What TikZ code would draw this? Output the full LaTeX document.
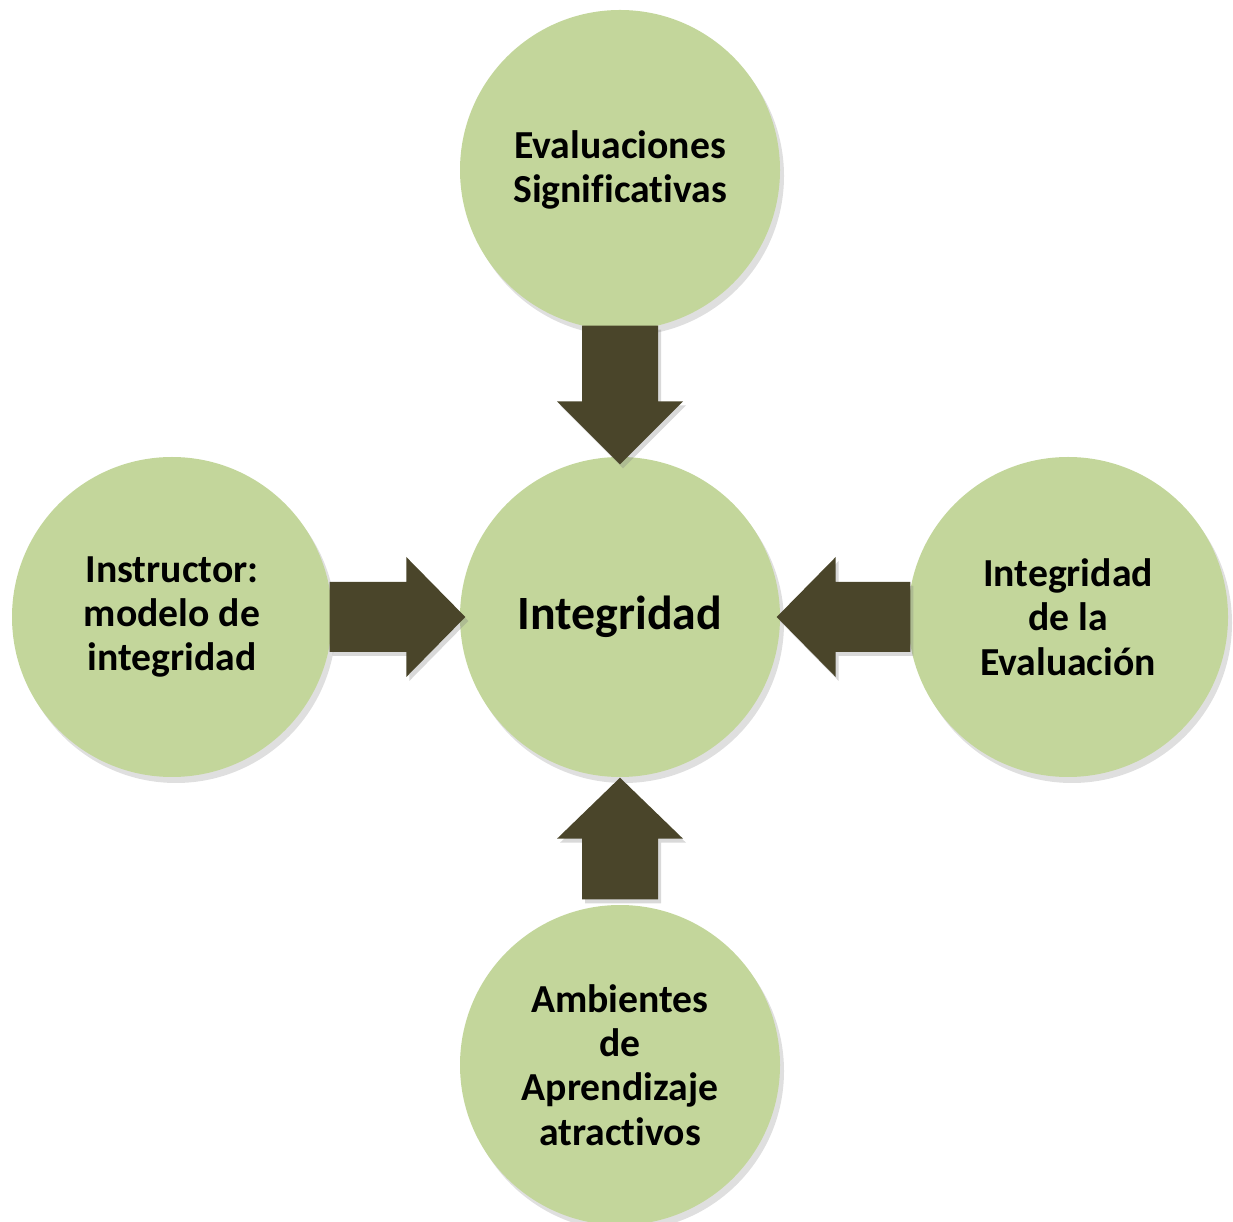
\documentclass[tikz,border=0pt]{standalone}
\usepackage{fontspec}
\setmainfont{Carlito}[Ligatures=NoCommon]
\usepackage{tikz}
\usetikzlibrary{calc,shadows}

\definecolor{leafgreen}{RGB}{195,214,155}
\definecolor{olivedark}{RGB}{74,69,42}

\tikzset{
  bubble/.style={circle,fill=leafgreen,minimum size=3.2cm,inner sep=0pt,align=center,
    font=\fontsize{11.3}{12.6}\selectfont\bfseries,
    drop shadow={opacity=0.25,shadow xshift=0.04,shadow yshift=-0.06}},
  blockarrow/.style={fill=olivedark,
    drop shadow={opacity=0.3,shadow xshift=0.03,shadow yshift=-0.04}}
}

\begin{document}
\begin{tikzpicture}
\useasboundingbox (0,0) rectangle (12.33,-12.22);
% Circles
\node[bubble,font=\fontsize{13.6}{15}\selectfont\bfseries] (integ) at (6.20,-6.17) {Integridad};
\node[bubble] (evals) at (6.20,-1.70) {Evaluaciones\\Significativas};
\node[bubble] (instructor) at (1.72,-6.17) {Instructor:\\modelo de\\integridad};
\node[bubble] (integeval) at (10.68,-6.17) {Integridad\\de la\\Evaluación};
\node[bubble] (ambientes) at (6.20,-10.65) {Ambientes\\de\\Aprendizaje\\atractivos};

% Block arrows into the centre
\fill[blockarrow] ($(evals.south)+(-0.38,0.05)$) -- ($(evals.south)+(0.38,0.05)$)
  -- ($(integ.north)+(0.38,0.55)$) -- ($(integ.north)+(0.63,0.55)$)
  -- ($(integ.north)+(0,-0.08)$) -- ($(integ.north)+(-0.63,0.55)$)
  -- ($(integ.north)+(-0.38,0.55)$) -- cycle;
\fill[blockarrow] ($(instructor.east)+(-0.03,0.35)$) -- ($(integ.west)+(-0.53,0.35)$)
  -- ($(integ.west)+(-0.53,0.6)$) -- ($(integ.west)+(0.06,0)$)
  -- ($(integ.west)+(-0.53,-0.6)$) -- ($(integ.west)+(-0.53,-0.35)$)
  -- ($(instructor.east)+(-0.03,-0.35)$) -- cycle;
\fill[blockarrow] ($(integeval.west)+(0.03,0.35)$) -- ($(integ.east)+(0.55,0.35)$)
  -- ($(integ.east)+(0.55,0.6)$) -- ($(integ.east)+(-0.04,0)$)
  -- ($(integ.east)+(0.55,-0.6)$) -- ($(integ.east)+(0.55,-0.35)$)
  -- ($(integeval.west)+(0.03,-0.35)$) -- cycle;
\fill[blockarrow] ($(ambientes.north)+(-0.38,0.05)$) -- ($(integ.south)+(-0.38,-0.61)$)
  -- ($(integ.south)+(-0.63,-0.61)$) -- ($(integ.south)+(0,0)$)
  -- ($(integ.south)+(0.63,-0.61)$) -- ($(integ.south)+(0.38,-0.61)$)
  -- ($(ambientes.north)+(0.38,0.05)$) -- cycle;
\end{tikzpicture}
\end{document}
